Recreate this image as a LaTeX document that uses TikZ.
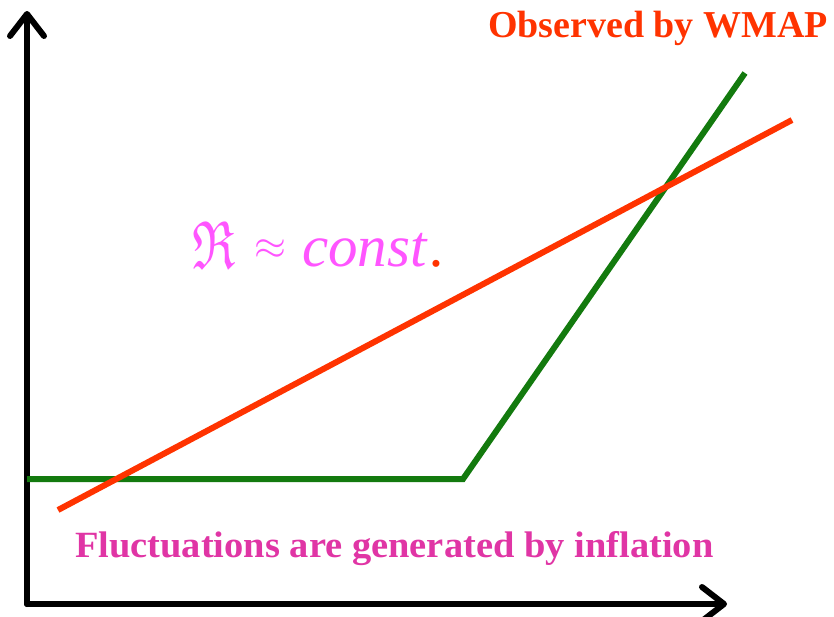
\documentclass[tikz,border=0pt]{standalone}
\usepackage{amssymb}
\usepackage{fontspec}
\setmainfont{Liberation Serif}[ItalicFont={Liberation Serif Italic},BoldFont={Liberation Serif Bold}]
\newfontfamily\formitalic{Liberation Serif Italic}
\usetikzlibrary{arrows.meta}
\definecolor{wmapred}{HTML}{FF3300}
\definecolor{flgreen}{HTML}{137A0E}
\definecolor{formmag}{HTML}{FF55FF}
\definecolor{infpink}{HTML}{E035A5}
\tikzset{
  axisline/.style={line width=6pt, line cap=round, -{Straight Barb[length=22pt,width=34pt,round]}},
  curve/.style={line width=6pt},
  lbl/.style={inner sep=0, outer sep=0},
}
\begin{document}
\begin{tikzpicture}[x=1pt,y=-1pt]
\useasboundingbox (0,0) rectangle (834,616);
% axes
\coordinate (O) at (27,604);
\coordinate (ytop) at (27,11);
\coordinate (xend) at (727,604);
\draw[axisline] (O) -- (ytop);
\draw[axisline] (O) -- (xend);
% green curve
\coordinate (g1) at (27,479);
\coordinate (g2) at (463,479);
\coordinate (g3) at (745,73);
\draw[curve, color=flgreen] (g1) -- (g2) -- (g3);
% red line
\coordinate (r1) at (58,510);
\coordinate (r2) at (792,120);
\draw[curve, color=wmapred] (r1) -- (r2);
% labels
\node[lbl, anchor=base east, text=wmapred, font=\fontsize{38}{40}\selectfont\bfseries] (obs) at (828,37) {Observed by WMAP};
\node[lbl, anchor=base west, text=infpink, font=\fontsize{37}{40}\selectfont\bfseries] (fluc) at (75,557) {\scalebox{1.04}[1]{Fluctuations are generated by inflation}};
\node[lbl, anchor=south west, text=formmag] (re) at (192,268) {\resizebox{43pt}{47pt}{$\mathfrak{R}$}};
\node[lbl, anchor=west, text=formmag] (approx) at (254,250) {\scalebox{4.1}{$\approx$}};
\node[lbl, anchor=base west, text=formmag] (const) at (302,266) {\fontsize{59}{62}\selectfont\formitalic const\hspace{4pt}\textcolor{wmapred}{.}};
\end{tikzpicture}
\end{document}
